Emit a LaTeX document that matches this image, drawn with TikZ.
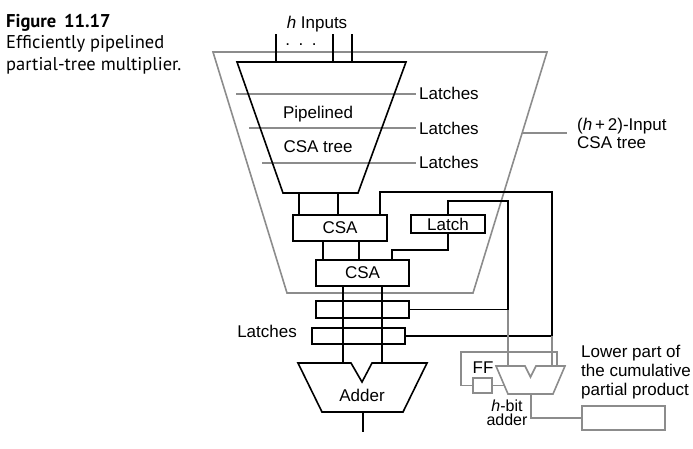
\documentclass[tikz,border=0pt]{standalone}
\usepackage{fontspec}
\setmainfont{Liberation Sans}
\newfontfamily\capfont{PT Sans}
\definecolor{lgray}{RGB}{140,140,140}
\tikzset{
  blk/.style={draw=black, line width=1.6pt},
  gry/.style={draw=lgray, line width=1.6pt},
  txt/.style={inner sep=0pt, font=\fontsize{17}{19}\selectfont},
  captxt/.style={inner sep=0pt, font=\capfont\fontsize{18.5}{21.5}\selectfont, anchor=base west},
  boxn/.style={blk, inner sep=0pt, font=\fontsize{17}{19}\selectfont},
}
\begin{document}
\begin{tikzpicture}[x=1pt, y=-1pt, line join=miter]
\useasboundingbox (0,0) rectangle (693,448);

% caption
\node[captxt] (c1) at (6,27) {\bfseries Figure\, 11.17};
\node[captxt] (c2) at (6,48.5) {Efficiently pipelined};
\node[captxt] (c3) at (6,70) {partial-tree multiplier.};

% outer gray trapezoid
\coordinate (o1) at (213,52); \coordinate (o2) at (547,52);
\coordinate (o3) at (473,293); \coordinate (o4) at (287,293);
\draw[gry] (o1) -- (o2) -- (o3) -- (o4) -- cycle;
\coordinate (olab) at (522,133); \coordinate (olabe) at (567,133);
\draw[gry] (olab) -- (olabe);
\node[txt, anchor=base west] (hl1) at (577,130) {(\textit{h}\,+\,2)-Input};
\node[txt, anchor=base west] (hl2) at (577,148) {CSA tree};

% latch lines
\coordinate (l1a) at (236,94); \coordinate (l1b) at (416,94);
\coordinate (l2a) at (249,128); \coordinate (l2b) at (416,128);
\coordinate (l3a) at (262,163); \coordinate (l3b) at (416,163);
\draw[gry] (l1a) -- (l1b); \draw[gry] (l2a) -- (l2b); \draw[gry] (l3a) -- (l3b);
\node[txt, anchor=base west] (lt1) at (419,99.5) {Latches};
\node[txt, anchor=base west] (lt2) at (419,134) {Latches};
\node[txt, anchor=base west] (lt3) at (419,168) {Latches};

% inner black trapezoid
\coordinate (t1) at (237,62); \coordinate (t2) at (406,62);
\coordinate (t3) at (358,193); \coordinate (t4) at (283,193);
\draw[blk] (t1) -- (t2) -- (t3) -- (t4) -- cycle;
\node[txt, anchor=base] (pip) at (318,118) {Pipelined};
\node[txt, anchor=base] (cst) at (318,152) {CSA tree};

% inputs
\coordinate (i1) at (276,34); \coordinate (i2) at (333,34); \coordinate (i3) at (352,34);
\draw[blk] (i1) -- (i1 |- t1); \draw[blk] (i2) -- (i2 |- t1); \draw[blk] (i3) -- (i3 |- t1);
\node[txt, anchor=base] (hin) at (317,28) {\textit{h} Inputs};
\node[txt, anchor=base] (dots) at (301,45) {.\,\,\,.\,\,\,.};

% boxes
\node[boxn, minimum width=94pt, minimum height=26pt] (CSA1) at (340,228) {CSA};
\node[boxn, minimum width=74pt, minimum height=18pt] (LAT) at (448,224) {Latch};
\node[boxn, minimum width=93pt, minimum height=26pt] (CSA2) at (362.5,273) {CSA};
\node[blk, inner sep=0pt, minimum width=93pt, minimum height=17pt] (L1) at (362.5,309.5) {};
\node[blk, inner sep=0pt, minimum width=93pt, minimum height=16pt] (L2) at (358.5,336) {};
\node[txt, anchor=base east] (ltl) at (297,337) {Latches};

% tree to CSA1
\draw[blk] (CSA1.north west) ++(7,0) -- ++(0,-22);
\draw[blk] (CSA1.north west) ++(46,0) -- ++(0,-22);
% CSA1 to CSA2
\draw[blk] (CSA2.north west) ++(8,0) -- ++(0,-19);
\draw[blk] (CSA2.north west) ++(44,0) -- ++(0,-19);

% adder
\coordinate (a1) at (298,363); \coordinate (a2) at (351,363); \coordinate (a3) at (362,382);
\coordinate (a4) at (372,363); \coordinate (a5) at (427,363); \coordinate (a6) at (403,412);
\coordinate (a7) at (322,412);
\draw[blk] (a1) -- (a2) -- (a3) -- (a4) -- (a5) -- (a6) -- (a7) -- cycle;
\node[txt, anchor=base] (add) at (362,401) {Adder};
\coordinate (aout) at (363,432);
\draw[blk] (aout |- a7) -- (aout);

% CSA2 through latches to adder
\coordinate (v1) at (343,363); \coordinate (v2) at (382,363);
\draw[blk] (v1 |- CSA2.south) -- (v1);
\draw[blk] (v2 |- CSA2.south) -- (v2);

% feedback wires
\coordinate (f1) at (380,192); \coordinate (f2) at (552,192);
\draw[blk] (f1 |- CSA1.north) -- (f1) -- (f2) -- (f2 |- L2.east) -- (L2.east);
\coordinate (g1) at (448,201); \coordinate (g2) at (508,201);
\draw[blk] (LAT.north) -- (g1) -- (g2) -- (g2 |- L1.east) -- (L1.east);
\coordinate (k1) at (448,250); \coordinate (k2) at (392,250);
\draw[blk] (LAT.south) -- (k1) -- (k2) -- (k2 |- CSA2.north);

% h-bit adder (gray)
\coordinate (b1) at (496,366); \coordinate (b2) at (525,366); \coordinate (b3) at (530.5,377);
\coordinate (b4) at (536,366); \coordinate (b5) at (565,366); \coordinate (b6) at (553,394);
\coordinate (b7) at (508,394);
\draw[gry] (b1) -- (b2) -- (b3) -- (b4) -- (b5) -- (b6) -- (b7) -- cycle;
\draw[gry] (g2 |- L1.east) -- (g2 |- b1);
\draw[gry] (f2 |- L2.east) -- (f2 |- b1);

% FF loop
\node[gry, inner sep=0pt, minimum width=19pt, minimum height=15pt] (FF) at (482.5,385.5) {};
\node[txt, anchor=base] (fft) at (483,373) {FF};
\coordinate (r1) at (557,366); \coordinate (r2) at (557,352); \coordinate (r3) at (461,352);
\draw[gry] (r1) -- (r2) -- (r3) -- (r3 |- FF.west) -- (FF.west);
\coordinate (r4) at (504.3,385.5);
\draw[gry] (FF.east) -- (r4);

% output to lower part register
\node[gry, inner sep=0pt, minimum width=83pt, minimum height=24pt] (LP) at (623.5,418) {};
\coordinate (s1) at (531,418);
\draw[gry] (s1 |- b7) -- (s1) -- (LP.west);
\node[txt, anchor=north, align=center, font=\fontsize{16}{14.5}\selectfont] (hb) at (507,399.5) {\textit{h}-bit\\adder};
\node[txt, anchor=base west] (lp1) at (581,357) {Lower part of};
\node[txt, anchor=base west] (lp2) at (581,376) {the cumulative};
\node[txt, anchor=base west] (lp3) at (581,395) {partial product};
\end{tikzpicture}
\end{document}
